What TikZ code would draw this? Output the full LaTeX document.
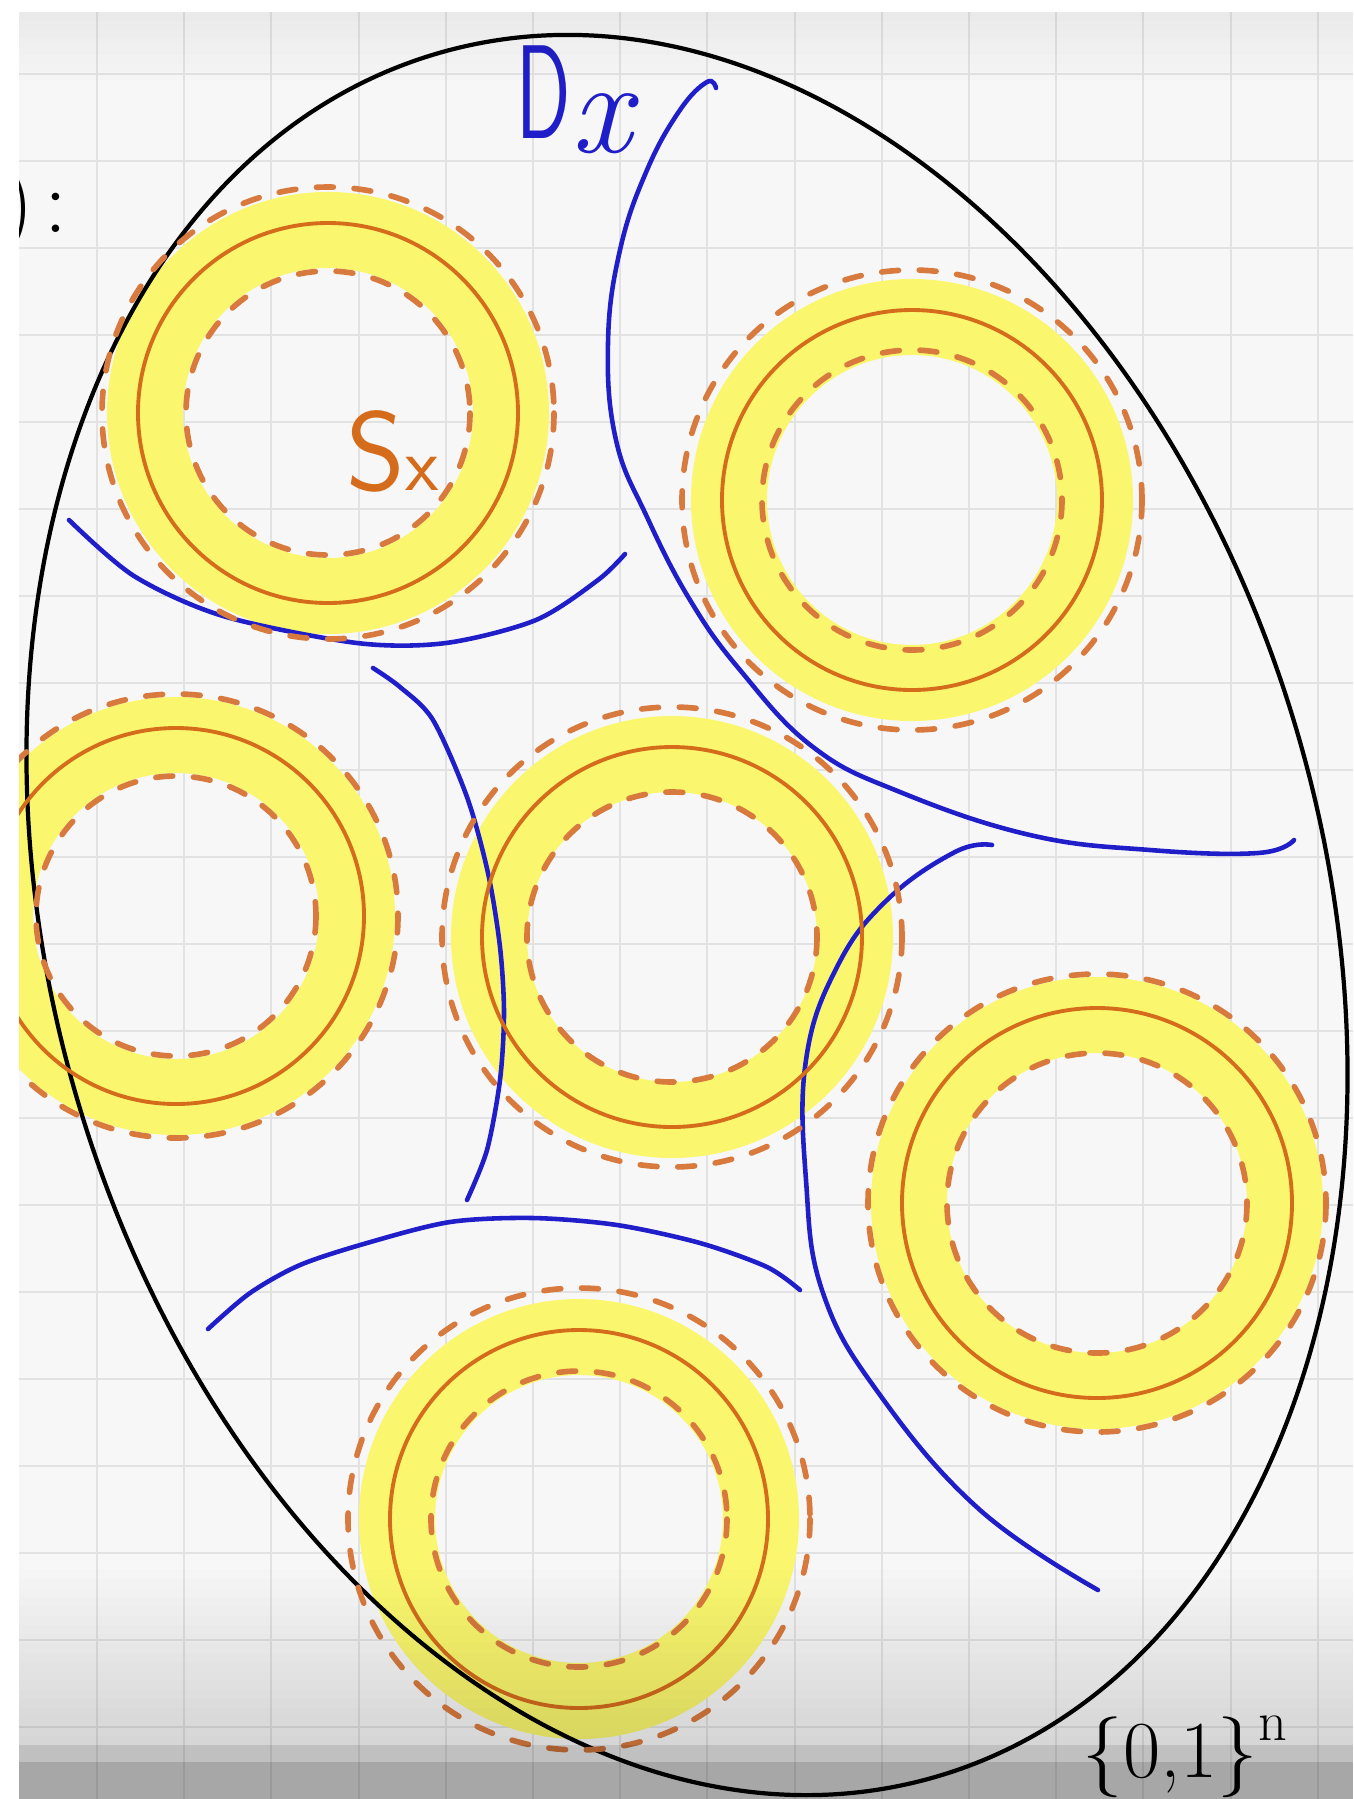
\documentclass[tikz,border=0pt]{standalone}
\usepackage{tikz}
\definecolor{penblue}{RGB}{32,30,200}
\definecolor{penorange}{RGB}{212,108,28}
\definecolor{dashorange}{RGB}{216,122,62}
\definecolor{hiyellow}{RGB}{250,247,110}
\definecolor{gridgray}{RGB}{226,226,226}

\begin{document}
\begin{tikzpicture}[x=0.01cm, y=-0.01cm,
    hilite/.style={hiyellow, line width=0.76cm},
    solidring/.style={penorange, line width=1.1pt},
    dashring/.style={dashorange, line width=1.6pt, line cap=round, dash pattern=on 4.8pt off 5.9pt},
    boundary/.style={penblue, line width=1.3pt, line cap=round},
    hull/.style={black, line width=1.2pt}]
    \useasboundingbox (0,0) rectangle (1353,1799);
    \fill[white] (0,0) rectangle (1353,1799);
    \begin{scope}
    \clip (19,12) rectangle (1353,1799);
    \fill[white!97!black] (19,12) rectangle (1353,1799);
    % grid paper
    \foreach \i in {0,...,14}
        \draw[gridgray, line width=0.6pt] ({97+87.2*\i},12) -- ({97+87.2*\i},1799);
    \foreach \j in {0,...,19}
        \draw[gridgray, line width=0.6pt] (19,{74+87*\j}) -- (1353,{74+87*\j});
    % highlighted bands
    \foreach \cx/\cy/\ry in {328/413/183, 912/500/183, 176/916/181, 672/937/183, 1097/1203/188, 579/1519/182}
        \draw[hilite] (\cx,\cy) circle (\ry);
    % the space
    \draw[hull, rotate around={16:(687,915)}] (687,915) ellipse [x radius=637, y radius=897];
    % boundaries
    \draw[boundary] plot[smooth] coordinates {(69,520) (134,576) (223,616) (357,643) (446,643) (536,620) (598,580) (625,554)};
    \draw[boundary] plot[smooth, tension=0.7] coordinates {(716,88) (707,82) (680,110) (647,170) (620,250) (608,343) (616,440) (647,517) (690,600) (740,670) (813,747) (900,792) (1030,835) (1150,850) (1258,853) (1294,840)};
    \draw[boundary] plot[smooth] coordinates {(373,668) (400,687) (433,720) (467,797) (488,873) (500,947) (504,1013) (500,1080) (487,1150) (467,1200)};
    \draw[boundary] plot[smooth] coordinates {(208,1329) (250,1293) (300,1265) (367,1243) (450,1222) (533,1218) (617,1225) (700,1243) (767,1267) (800,1290)};
    \draw[boundary] plot[smooth, tension=0.7] coordinates {(992,845) (955,852) (887,900) (837,967) (806,1060) (806,1180) (823,1293) (880,1395) (980,1510) (1098,1590)};
    % rings
    \foreach \cx/\cy/\rs/\ri/\ro in {328/413/190/142/226, 912/500/190/150/230, 176/916/188/140/222, 672/937/190/145/230, 1097/1203/195/150/229, 579/1519/189/148/231} {
        \draw[solidring] (\cx,\cy) circle (\rs);
        \draw[dashring] (\cx,\cy) circle (\ri);
        \draw[dashring] (\cx,\cy) circle (\ro);
    }
    % labels
    \node[penblue, anchor=base west, inner sep=0, font=\sffamily\fontsize{38}{40}\selectfont] (dlabel) at (516,138) {\scalebox{0.6}[1]{D}\raisebox{-4pt}{\rmfamily\itshape x}};
    \node[penorange, anchor=base west, inner sep=0, font=\sffamily\fontsize{32}{34}\selectfont] (slabel) at (346,490) {S{\fontsize{22}{22}\selectfont x}};
    \node[anchor=base east, inner sep=0, font=\fontsize{26}{28}\selectfont] (colon) at (68,232) {)\kern0.12em:};
    \node[anchor=base west, inner sep=0, font=\fontsize{23}{25}\selectfont] (cube) at (1082,1777) {\{0,1\}\raisebox{0.45em}{\fontsize{16}{16}\selectfont n}};
    % shading of the screen edges
    \foreach \k in {0,...,7}
        \fill[black, opacity={0.05-0.006*\k}] (19,{12+8.5*\k}) rectangle (1353,{20.5+8.5*\k});
    \foreach \k in {0,...,19}
        \fill[black, opacity={0.007*\k}] (19,{1560+9.25*\k}) rectangle (1353,{1569.25+9.25*\k});
    \fill[black, opacity=0.22] (19,1745) rectangle (1353,1762);
    \fill[black, opacity=0.32] (19,1762) rectangle (1353,1799);
    \end{scope}
\end{tikzpicture}
\end{document}
